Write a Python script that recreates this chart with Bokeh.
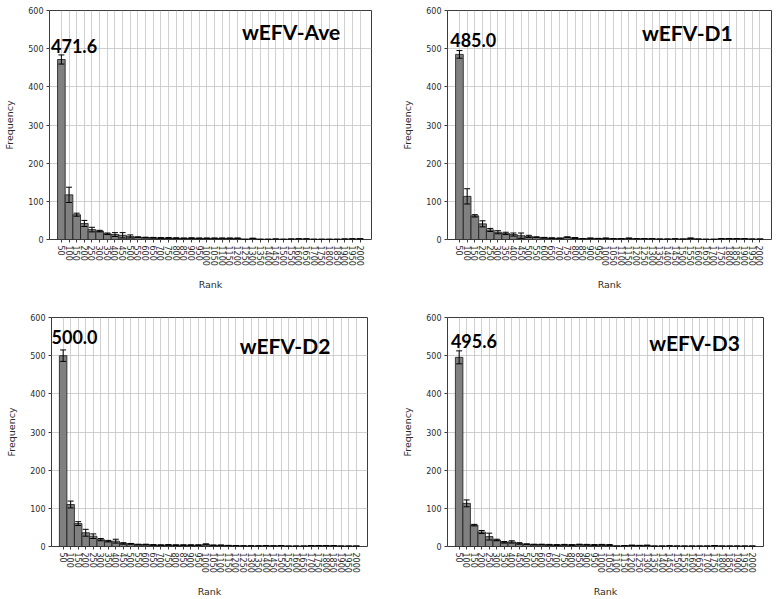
from bokeh.plotting import figure
from bokeh.layouts import column, row
from bokeh.models import ColumnDataSource, FixedTicker, Whisker, TeeHead, Label, Range1d
from bokeh.embed import file_html
from bokeh.resources import INLINE

# Rank bins (upper bound of each bin of 50)
ranks = ["50", "100", "150", "200", "250", "300", "350", "400", "450", "500",
         "550", "600", "650", "700", "750", "800", "850", "900", "950", "1000",
         "1050", "1100", "1150", "1200", "1250", "1300", "1350", "1400", "1450", "1500",
         "1550", "1600", "1650", "1700", "1750", "1800", "1850", "1900", "1950", "2000"]

# Mean frequency per rank bin and its error
ave_freq = [471.6, 117, 65, 42, 26, 22, 15, 13, 11, 8,
            6, 5, 4.5, 4, 4, 3.5, 3, 3.5, 3, 3,
            3, 3, 3, 3, 0.5, 2.5, 0.5, 0.5, 1, 0.5,
            1, 1.5, 1.5, 0.5, 0.5, 0.5, 0.5, 1, 1.5, 1.5]
ave_err = [12, 20, 4, 8, 6, 2, 2, 5, 7, 4,
           1, 1, 1, 1, 1, 1, 1, 1, 1, 1,
           1, 1, 1, 1, 0, 1, 0, 0, 0.5, 0,
           0.5, 0.5, 0.5, 0, 0, 0, 0, 0.5, 0.5, 0.5]

d1_freq = [485.0, 113, 62, 41, 25, 19, 16, 13, 10, 8,
           6, 4.5, 3.5, 3, 6, 4, 2, 3, 2.5, 3,
           2, 2, 3, 2, 2, 2, 1, 1, 1.5, 1,
           3, 1, 0.5, 0.5, 2, 2, 2, 2, 1, 1]
d1_err = [10, 20, 3, 8, 4, 4, 3, 4, 7, 3,
          1, 1, 1, 1, 1, 1, 0.5, 1, 0.5, 1,
          0.5, 0.5, 1, 0.5, 0.5, 0.5, 0, 0, 0.5, 0,
          1, 0, 0, 0, 0.5, 0.5, 0.5, 0.5, 0, 0]

d2_freq = [500.0, 110, 60, 36, 27, 18, 14, 14, 8, 7,
           5, 5, 4, 3.5, 4, 3.5, 3.5, 3.5, 3.5, 5.5,
           3, 3, 2.5, 2, 1.5, 1.5, 1.5, 2, 1.5, 2,
           1, 1, 1, 2, 2, 2, 2, 1, 1, 1]
d2_err = [15, 9, 5, 9, 6, 3, 2, 5, 2, 1,
          1, 1, 1, 1, 1, 1, 1, 1, 1, 1.5,
          1, 1, 0.5, 0.5, 0.5, 0.5, 0.5, 0.5, 0.5, 0.5,
          0, 0, 0, 0.5, 0.5, 0.5, 0.5, 0, 0, 0]

d3_freq = [495.6, 113, 56, 38, 26, 17, 11, 12, 8, 6,
           5, 5, 4.5, 4, 4.5, 4, 5, 4.5, 4, 4.5,
           4, 1, 2, 3, 2.5, 3, 1, 1, 1.5, 1,
           1, 1, 1, 1, 2, 1, 1, 1, 1, 1]
d3_err = [17, 9, 2, 4, 9, 2, 2, 3, 2, 1,
          1, 1, 1, 1, 1, 1, 1, 1, 1, 1,
          1, 0, 0.5, 0.5, 0.5, 0.5, 0, 0, 0.5, 0,
          0, 0, 0, 0, 0.5, 0, 0, 0, 0, 0]

names = ["wEFV-Ave", "wEFV-D1", "wEFV-D2", "wEFV-D3"]
freqs = [ave_freq, d1_freq, d2_freq, d3_freq]
errs = [ave_err, d1_err, d2_err, d3_err]

# Panel geometry (borders around the plotting frame) and annotation placement
geometry = [
    dict(left=49, frame_w=322, right=7, top=10, frame_h=229, bottom=61),
    dict(left=69, frame_w=324, right=7, top=10, frame_h=229, bottom=61),
    dict(left=51, frame_w=316, right=11, top=17, frame_h=230, bottom=52),
    dict(left=69, frame_w=316, right=7, top=17, frame_h=230, bottom=52),
]
title_pos = [(23.6, 579), (23.7, 576), (23.5, 560), (25.3, 568)]
peak_label_pos = [(-1.35, 55), (-1.2, 55), (-1.55, 66), (-1.1, 62)]

TEXT = "#2b2b2b"


def make_panel(name, freq, err, geo, tpos, lpos):
    x = list(range(len(ranks)))
    src = ColumnDataSource(dict(
        x=x, freq=freq,
        upper=[f + e for f, e in zip(freq, err)],
        lower=[f - e for f, e in zip(freq, err)],
    ))
    p = figure(
        width=geo["left"] + geo["frame_w"] + geo["right"],
        height=geo["top"] + geo["frame_h"] + geo["bottom"],
        x_range=Range1d(-1.55, 40.5), y_range=Range1d(0, 600),
        output_backend="svg", toolbar_location=None, tools="",
        min_border_left=geo["left"], min_border_right=geo["right"],
        min_border_top=geo["top"], min_border_bottom=geo["bottom"],
    )
    p.background_fill_color = "white"
    p.border_fill_color = "white"
    p.outline_line_color = "#3c3c3c"
    p.outline_line_width = 1

    p.vbar(x="x", top="freq", bottom=0, width=1.0, source=src,
           fill_color="#808080", line_color="#1a1a1a", line_width=0.8)

    whisk = Whisker(base="x", upper="upper", lower="lower", source=src,
                    line_color="black", line_width=1, level="annotation",
                    upper_head=TeeHead(size=6, line_color="black", line_width=1),
                    lower_head=TeeHead(size=6, line_color="black", line_width=1))
    p.add_layout(whisk)

    # axes
    p.xaxis.ticker = FixedTicker(ticks=x)
    p.xaxis.major_label_overrides = {i: r for i, r in zip(x, ranks)}
    p.xaxis.major_label_orientation = "vertical"
    p.yaxis.ticker = FixedTicker(ticks=[0, 100, 200, 300, 400, 500, 600])
    for ax in (p.xaxis, p.yaxis):
        ax.axis_line_color = None
        ax.major_tick_line_color = "#3c3c3c"
        ax.major_tick_out = 3
        ax.major_tick_in = 0
        ax.minor_tick_line_color = None
        ax.major_label_text_font = "DejaVu Sans"
        ax.major_label_text_font_size = "8px"
        ax.major_label_text_color = TEXT
        ax.major_label_standoff = 3
        ax.axis_label_text_font = "DejaVu Sans"
        ax.axis_label_text_font_size = "9.5px"
        ax.axis_label_text_font_style = "normal"
        ax.axis_label_text_color = TEXT
        ax.axis_label_standoff = 10
    p.xaxis.axis_label = "Rank"
    p.yaxis.axis_label = "Frequency"

    p.xgrid.ticker = FixedTicker(ticks=x)
    p.grid.grid_line_color = "#c4c4c4"
    p.grid.grid_line_width = 0.8

    p.add_layout(Label(x=tpos[0], y=tpos[1], text=name,
                       text_font="Lato", text_font_style="bold",
                       text_font_size="21px", text_color="black",
                       text_align="left", text_baseline="top"))
    p.add_layout(Label(x=lpos[0], y=freq[0] + lpos[1], text=f"{freq[0]:.1f}",
                       text_font="Lato", text_font_style="bold",
                       text_font_size="18px", text_color="black",
                       text_align="left", text_baseline="top"))
    return p


panels = [make_panel(n, f, e, g, t, l)
          for n, f, e, g, t, l in zip(names, freqs, errs, geometry, title_pos, peak_label_pos)]

layout = column(row(panels[0], panels[1]), row(panels[2], panels[3]))

with open("out.html", "w") as fh:
    fh.write(file_html(layout, INLINE))
